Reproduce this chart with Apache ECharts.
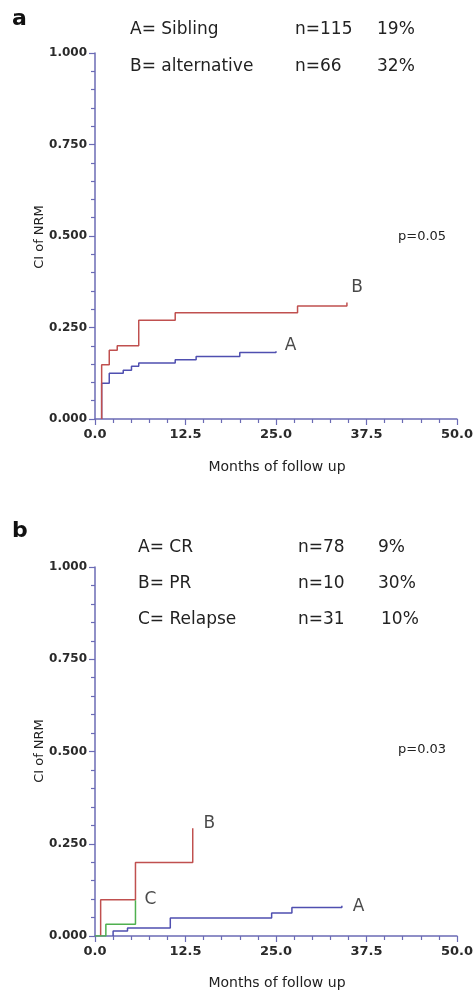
<!DOCTYPE html>
<html>
<head>
<meta charset="utf-8">
<script src="https://cdn.jsdelivr.net/npm/echarts@6/dist/echarts.min.js"></script>
<style>
  html, body { margin: 0; padding: 0; background: #fff; }
  #chart { width: 476px; height: 996px; }
</style>
</head>
<body>
<div id="chart"></div>
<script>
// === DATA ===
// panel a: [months, cumulative incidence]
const aSibling = [[0.92, 0], [0.92, 0.098], [1.97, 0.125], [3.9, 0.133], [5.04, 0.144], [6.04, 0.153],
    [11.08, 0.162], [13.97, 0.171], [20.0, 0.182], [25.0, 0.185]];
const aAlternative = [[0.92, 0], [0.92, 0.148], [1.97, 0.188], [3.07, 0.2], [6.04, 0.27], [11.08, 0.29],
    [27.98, 0.309], [34.8, 0.318]];
// panel b
const bCR = [[2.5, 0], [2.5, 0.0135], [4.49, 0.0217], [10.4, 0.0487], [24.4, 0.062], [27.2, 0.077], [34.1, 0.082]];
const bPR = [[0.78, 0], [0.78, 0.098], [5.59, 0.199], [13.5, 0.292]];
const bRelapse = [[0, 0], [1.5, 0.032], [5.59, 0.097]];

// curve letters placed in data coordinates
const aLetters = [[27, 0.2, 'A'], [36.2, 0.36, 'B']];
const bLetters = [[36.4, 0.079, 'A'], [15.8, 0.304, 'B'], [7.65, 0.099, 'C']];

const yTicks = [0, 0.25, 0.5, 0.75, 1];
const xTicks = [0, 12.5, 25, 37.5, 50];

const aLegend = [['A= Sibling', 'n=115', '19%'], ['B= alternative', 'n=66', '32%']];
const bLegend = [['A= CR', 'n=78', '9%'], ['B= PR', 'n=10', '30%'], ['C= Relapse', 'n=31', '10%']];
const pValues = ['p=0.05', 'p=0.03'];

const FONT = '"DejaVu Sans", sans-serif';
const axisCol = '#6b6bb5';
const red = '#c0504f';
const blue = '#4f4fb0';
const green = '#4fb04f';

function xAx(gi) {
    return {
        gridIndex: gi, type: 'value', min: xTicks[0], max: xTicks[xTicks.length - 1], interval: xTicks[1] - xTicks[0],
        axisLine: { show: true, lineStyle: { color: axisCol, width: 1.5 } },
        axisTick: { show: true, length: 6, lineStyle: { color: axisCol, width: 1.2 } },
        minorTick: { show: true, splitNumber: 5, length: 4, lineStyle: { color: axisCol, width: 1.2 } },
        splitLine: { show: false },
        axisLabel: { margin: 9, color: '#2a2a2a', fontFamily: FONT, fontWeight: 'bold', fontSize: 13,
            formatter: v => v.toFixed(1) }
    };
}
function yAx(gi) {
    return {
        gridIndex: gi, type: 'value', min: yTicks[0], max: yTicks[yTicks.length - 1], interval: yTicks[1] - yTicks[0],
        axisLine: { show: true, lineStyle: { color: axisCol, width: 1.5 } },
        axisTick: { show: true, length: 6, lineStyle: { color: axisCol, width: 1.2 } },
        minorTick: { show: true, splitNumber: 5, length: 4, lineStyle: { color: axisCol, width: 1.2 } },
        splitLine: { show: false },
        axisLabel: { margin: 8, color: '#2a2a2a', fontFamily: FONT, fontWeight: 'bold', fontSize: 12,
            formatter: v => v.toFixed(3) }
    };
}
function stepLine(gi, data, color) {
    return {
        type: 'line', xAxisIndex: gi, yAxisIndex: gi, step: 'end', data: data,
        symbol: 'none', lineStyle: { color: color, width: 1.5 }, silent: true, z: 3
    };
}
function letters(gi, data) {
    return {
        type: 'scatter', xAxisIndex: gi, yAxisIndex: gi, data: data, symbolSize: 0, silent: true,
        label: { show: true, position: 'inside', formatter: p => p.value[2],
            color: '#1a1a1a', fontFamily: FONT, fontSize: 17 }
    };
}

const texts = [];
function txt(x, y, s, opts) {
    texts.push(Object.assign({
        type: 'text', x: x, y: y,
        style: { text: s, fill: '#222', font: '17px ' + FONT, textAlign: 'left', textVerticalAlign: 'middle' }
    }, opts || {}));
}
// panel letters
txt(12, 19, 'a', { style: { text: 'a', fill: '#111', font: 'bold 22px ' + FONT, textVerticalAlign: 'middle' } });
txt(12, 531, 'b', { style: { text: 'b', fill: '#111', font: 'bold 22px ' + FONT, textVerticalAlign: 'middle' } });
// legend tables
aLegend.forEach((r, i) => {
    const y = 30 + i * 37;
    txt(130, y, r[0]); txt(295, y, r[1]); txt(377, y, r[2]);
});
bLegend.forEach((r, i) => {
    const y = 548 + i * 36;
    txt(138, y, r[0]); txt(298, y, r[1]); txt(i === 2 ? 381 : 378, y, r[2]);
});
// p values
txt(398, 237, pValues[0], { style: { text: pValues[0], fill: '#222', font: '13px ' + FONT, textVerticalAlign: 'middle' } });
txt(398, 750, pValues[1], { style: { text: pValues[1], fill: '#222', font: '13px ' + FONT, textVerticalAlign: 'middle' } });
// axis titles
[[237, 467], [751, 983]].forEach(p => {
    texts.push({ type: 'text', x: 40, y: p[0], rotation: Math.PI / 2,
        style: { text: 'CI of NRM', fill: '#222', font: '13px ' + FONT, textAlign: 'center', textVerticalAlign: 'middle' } });
    texts.push({ type: 'text', x: 277, y: p[1],
        style: { text: 'Months of follow up', fill: '#222', font: '14px ' + FONT, textAlign: 'center', textVerticalAlign: 'middle' } });
});

const chart = echarts.init(document.getElementById('chart'));
chart.setOption({
    animation: false,
    backgroundColor: '#fff',
    grid: [
        { left: 95, top: 53, width: 364, height: 366 },
        { left: 95, top: 567, width: 364, height: 369 }
    ],
    xAxis: [xAx(0), xAx(1)],
    yAxis: [yAx(0), yAx(1)],
    series: [
        stepLine(0, aSibling, blue),
        stepLine(0, aAlternative, red),
        letters(0, aLetters),
        stepLine(1, bCR, blue),
        stepLine(1, bPR, red),
        stepLine(1, bRelapse, green),
        letters(1, bLetters)
    ],
    graphic: texts
});
</script>
</body>
</html>
